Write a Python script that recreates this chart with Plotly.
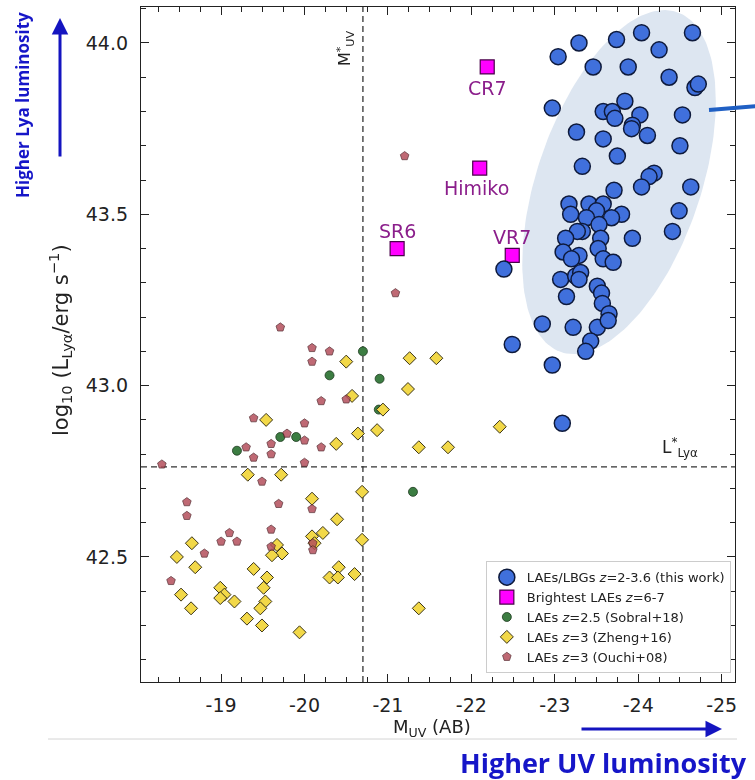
import numpy as np
import plotly.graph_objects as go

# ---- data -------------------------------------------------------------
# LAEs/LBGs z=2-3.6 (this work)
this_work_muv = [-23.04, -23.29, -23.74, -24.04, -24.25, -24.65, -23.46, -23.88, -24.37, -24.68,
                 -24.72, -22.97, -23.84, -23.58, -23.69, -23.72, -24.02, -24.53, -23.26, -23.58,
                 -23.93, -23.92, -24.11, -24.50, -23.75, -23.33, -24.19, -24.13, -24.04, -23.71,
                 -24.63, -23.17, -23.41, -23.58, -23.50, -23.19, -23.80, -24.49, -23.38, -23.68,
                 -23.53, -23.33, -23.27, -23.13, -23.55, -23.93, -24.41, -23.52, -23.10, -23.29,
                 -23.20, -23.58, -23.70, -22.39, -23.07, -23.25, -23.31, -23.29, -23.51, -23.56,
                 -23.14, -23.57, -23.65, -22.85, -23.22, -23.51, -23.64, -22.49, -23.43, -23.37,
                 -22.97, -23.09]
this_work_lya = [43.96, 44.00, 44.01, 44.03, 43.98, 44.03, 43.93, 43.93, 43.90, 43.87,
                 43.88, 43.81, 43.83, 43.80, 43.80, 43.78, 43.79, 43.79, 43.74, 43.72,
                 43.76, 43.75, 43.73, 43.70, 43.67, 43.64, 43.62, 43.61, 43.58, 43.57,
                 43.58, 43.53, 43.53, 43.53, 43.51, 43.50, 43.50, 43.51, 43.49, 43.49,
                 43.47, 43.45, 43.45, 43.43, 43.43, 43.43, 43.45, 43.40, 43.39, 43.38,
                 43.37, 43.37, 43.36, 43.34, 43.31, 43.32, 43.33, 43.31, 43.29, 43.27,
                 43.26, 43.24, 43.21, 43.18, 43.17, 43.17, 43.19, 43.12, 43.13, 43.10,
                 43.06, 42.89]

# Brightest LAEs z=6-7
bright_names = ["CR7", "Himiko", "SR6", "VR7"]
bright_muv = [-22.19, -22.10, -21.11, -22.49]
bright_lya = [43.93, 43.635, 43.40, 43.38]

# LAEs z=2.5 (Sobral+18)
sobral_muv = [-20.70, -20.30, -20.90, -20.89, -19.71, -19.90, -19.19, -21.30]
sobral_lya = [43.10, 43.03, 43.02, 42.93, 42.85, 42.85, 42.81, 42.69]

# LAEs z=3 (Zheng+16)
zheng_muv = [-20.50, -21.26, -21.58, -21.24, -20.57, -20.94, -19.54, -20.87, -20.64, -20.38,
             -21.37, -21.72, -22.34, -19.32, -19.72, -20.69, -20.09, -20.39, -20.22, -18.65,
             -20.09, -20.12, -20.69, -19.67, -19.73, -19.61, -18.47, -18.69, -19.39, -20.41,
             -20.30, -20.40, -20.60, -19.55, -19.51, -18.99, -19.04, -18.99, -19.16, -18.52,
             -18.64, -19.53, -19.47, -19.31, -19.49, -19.94, -21.37]
zheng_lya = [43.07, 43.08, 43.08, 42.99, 42.97, 42.93, 42.90, 42.87, 42.86, 42.83,
             42.82, 42.82, 42.88, 42.74, 42.74, 42.69, 42.67, 42.61, 42.57, 42.54,
             42.56, 42.54, 42.55, 42.535, 42.51, 42.505, 42.50, 42.47, 42.465, 42.47,
             42.44, 42.44, 42.45, 42.44, 42.41, 42.41, 42.39, 42.38, 42.37, 42.39,
             42.35, 42.37, 42.35, 42.32, 42.30, 42.28, 42.35]

# LAEs z=3 (Ouchi+08)
ouchi_muv = [-21.20, -21.09, -19.71, -20.09, -20.30, -20.09, -20.50, -20.20, -19.39, -20.00,
             -19.79, -20.00, -19.30, -19.60, -19.60, -20.20, -19.39, -18.29, -20.00, -19.49,
             -18.59, -20.09, -19.69, -18.59, -19.60, -19.10, -19.00, -19.19, -20.10, -19.60,
             -20.10, -18.80, -18.40]
ouchi_lya = [43.67, 43.27, 43.17, 43.11, 43.10, 43.07, 42.96, 42.955, 42.905, 42.89,
             42.86, 42.84, 42.82, 42.83, 42.80, 42.82, 42.79, 42.77, 42.775, 42.72,
             42.66, 42.64, 42.655, 42.62, 42.58, 42.57, 42.545, 42.545, 42.54, 42.53,
             42.52, 42.51, 42.43]

# characteristic values
M_star = -20.7
L_star = 42.763

# axis ticks
x_tick_vals = [-19, -20, -21, -22, -23, -24, -25]
x_tick_text = ["-19", "-20", "-21", "-22", "-23", "-24", "-25"]
y_tick_vals = [42.5, 43.0, 43.5, 44.0]
y_tick_text = ["42.5", "43.0", "43.5", "44.0"]

# shaded region around this-work sample (centre, half-extents, tilt)
ell_center = (-23.77, 43.594)
ell_half = (1.16, 0.502)
ell_tilt = 0.47

FONT = "DejaVu Sans"
BLUE_TXT = "#1616c8"

fig = go.Figure()

t = np.linspace(0, 2 * np.pi, 200)
ell_x = ell_center[0] - ell_half[0] * np.cos(t)
ell_y = ell_center[1] + ell_half[1] * (ell_tilt * np.cos(t) + np.sqrt(1 - ell_tilt ** 2) * np.sin(t))
fig.add_trace(go.Scatter(x=ell_x, y=ell_y, mode="lines", fill="toself",
                         fillcolor="#dde6f1", line=dict(width=0),
                         hoverinfo="skip", showlegend=False))

fig.add_trace(go.Scatter(
    x=sobral_muv, y=sobral_lya, mode="markers", name="LAEs <i>z</i>=2.5 (Sobral+18)",
    legendrank=3,
    marker=dict(symbol="circle", size=9, color="#3c7d42",
                line=dict(color="#1e3a20", width=0.8))))
fig.add_trace(go.Scatter(
    x=zheng_muv, y=zheng_lya, mode="markers", name="LAEs <i>z</i>=3 (Zheng+16)",
    legendrank=4,
    marker=dict(symbol="diamond", size=10, color="#f2d848",
                line=dict(color="#3a3418", width=1))))
fig.add_trace(go.Scatter(
    x=ouchi_muv, y=ouchi_lya, mode="markers", name="LAEs <i>z</i>=3 (Ouchi+08)",
    legendrank=5, opacity=0.85,
    marker=dict(symbol="pentagon", size=9, color="#b44f5c",
                line=dict(color="#4a1c22", width=0.8))))
fig.add_trace(go.Scatter(
    x=bright_muv, y=bright_lya, mode="markers", name="Brightest LAEs <i>z</i>=6-7",
    legendrank=2,
    marker=dict(symbol="square", size=14, color="#ff00ff",
                line=dict(color="#4a004a", width=1.2))))
fig.add_trace(go.Scatter(
    x=this_work_muv, y=this_work_lya, mode="markers",
    name="LAEs/LBGs <i>z</i>=2-3.6 (this work)", legendrank=1,
    marker=dict(symbol="circle", size=16, color="#4070dc",
                line=dict(color="#0e1a3c", width=1.5))))

# characteristic M_UV and L_Lya lines
dash_line = dict(color="#333333", width=1.3, dash="6px,4px")
fig.add_shape(type="line", xref="x", yref="paper", x0=M_star, x1=M_star, y0=0, y1=1,
              line=dash_line, layer="below")
fig.add_shape(type="line", xref="paper", yref="y", x0=0, x1=1, y0=L_star, y1=L_star,
              line=dash_line, layer="below")


def label(**kw):
    base = dict(showarrow=False, xanchor="center", yanchor="middle")
    base.update(kw)
    return base


annotations = []
annotations.append(label(xref="x", yref="paper", x=M_star, y=0.939, xshift=-18,
                         text="M<sup>*</sup><sub>UV</sub>", textangle=-90,
                         font=dict(family=FONT, size=16, color="#222")))
annotations.append(label(xref="paper", yref="y", x=0.907, y=L_star, yshift=19,
                         text="L<sup>*</sup><sub>Lyα</sub>",
                         font=dict(family=FONT, size=17, color="#222")))

# names of the bright LAEs
label_shift = {"CR7": (0, -21), "Himiko": (-3, -20), "SR6": (0, 18), "VR7": (0, 18)}
for name, mx, ly in zip(bright_names, bright_muv, bright_lya):
    dx, dy = label_shift[name]
    annotations.append(label(xref="x", yref="y", x=mx, y=ly, xshift=dx, yshift=dy,
                             text=name, font=dict(family=FONT, size=19, color="#8b1e8b")))

# axis titles
annotations.append(label(xref="paper", yref="paper", x=(432 - 141) / 594, y=(682 - 728) / 675,
                         text="M<sub>UV</sub> (AB)",
                         font=dict(family=FONT, size=18, color="#222")))
annotations.append(label(xref="paper", yref="paper", x=(60 - 141) / 594, y=(682 - 340) / 675,
                         textangle=-90,
                         text="log<sub>10</sub> (L<sub>Lyα</sub>/erg s<sup>−1</sup>)",
                         font=dict(family=FONT, size=21, color="#222")))

# direction hints
annotations.append(label(xref="paper", yref="paper", x=(22 - 141) / 594, y=(682 - 105) / 675,
                         textangle=-90, text="<b>Higher Lya luminosity</b>",
                         font=dict(family="Open Sans", size=17, color=BLUE_TXT)))
annotations.append(label(xref="paper", yref="paper", x=(603 - 141) / 594, y=(682 - 762) / 675,
                         text="<b>Higher UV luminosity</b>",
                         font=dict(family="Open Sans", size=27, color=BLUE_TXT)))
annotations.append(dict(xref="paper", yref="paper", x=(60 - 141) / 594, y=(682 - 18) / 675,
                        ax=0, ay=140, text="", showarrow=True, arrowhead=2, arrowsize=1.1,
                        arrowwidth=3, arrowcolor="#1414c0"))
annotations.append(dict(xref="paper", yref="paper", x=(722 - 141) / 594, y=(682 - 729) / 675,
                        ax=-142, ay=0, text="", showarrow=True, arrowhead=2, arrowsize=1.1,
                        arrowwidth=3, arrowcolor="#1414c0"))

fig.add_shape(type="line", xref="paper", yref="paper",
              x0=(709 - 141) / 594, x1=(758 - 141) / 594,
              y0=(682 - 110) / 675, y1=(682 - 106) / 675,
              line=dict(color="#2060c4", width=4))
fig.add_shape(type="line", xref="paper", yref="paper",
              x0=(48 - 141) / 594, x1=(737 - 141) / 594,
              y0=(682 - 739) / 675, y1=(682 - 739) / 675,
              line=dict(color="#d4d4d4", width=1))

axis_common = dict(showgrid=False, zeroline=False, showline=True, linecolor="#222",
                   linewidth=1.3, mirror="allticks", ticks="inside", ticklen=8, tickwidth=1.3,
                   tickcolor="#222", tickfont=dict(family=FONT, size=19, color="#222"))

fig.update_xaxes(range=[-18.04, -25.16], tickmode="array", tickvals=x_tick_vals,
                 ticktext=x_tick_text, ticklabelstandoff=6,
                 minor=dict(ticks="inside", ticklen=4.5, tickwidth=1, tick0=-19, dtick=0.25,
                            tickcolor="#222", showgrid=False),
                 **axis_common)
fig.update_yaxes(range=[42.135, 44.105], tickmode="array", tickvals=y_tick_vals,
                 ticktext=y_tick_text, ticklabelstandoff=8,
                 minor=dict(ticks="inside", ticklen=4.5, tickwidth=1, tick0=42, dtick=0.1,
                            tickcolor="#222", showgrid=False),
                 **axis_common)

fig.update_layout(
    width=755, height=780,
    margin=dict(l=141, r=20, t=7, b=98),
    paper_bgcolor="white", plot_bgcolor="white",
    annotations=annotations,
    legend=dict(x=0.993, y=0.013, xanchor="right", yanchor="bottom",
                bgcolor="rgba(255,255,255,0.85)", bordercolor="#cccccc", borderwidth=1,
                font=dict(family=FONT, size=13, color="#222"), tracegroupgap=0),
    showlegend=True,
)

fig.write_html("out.html")
